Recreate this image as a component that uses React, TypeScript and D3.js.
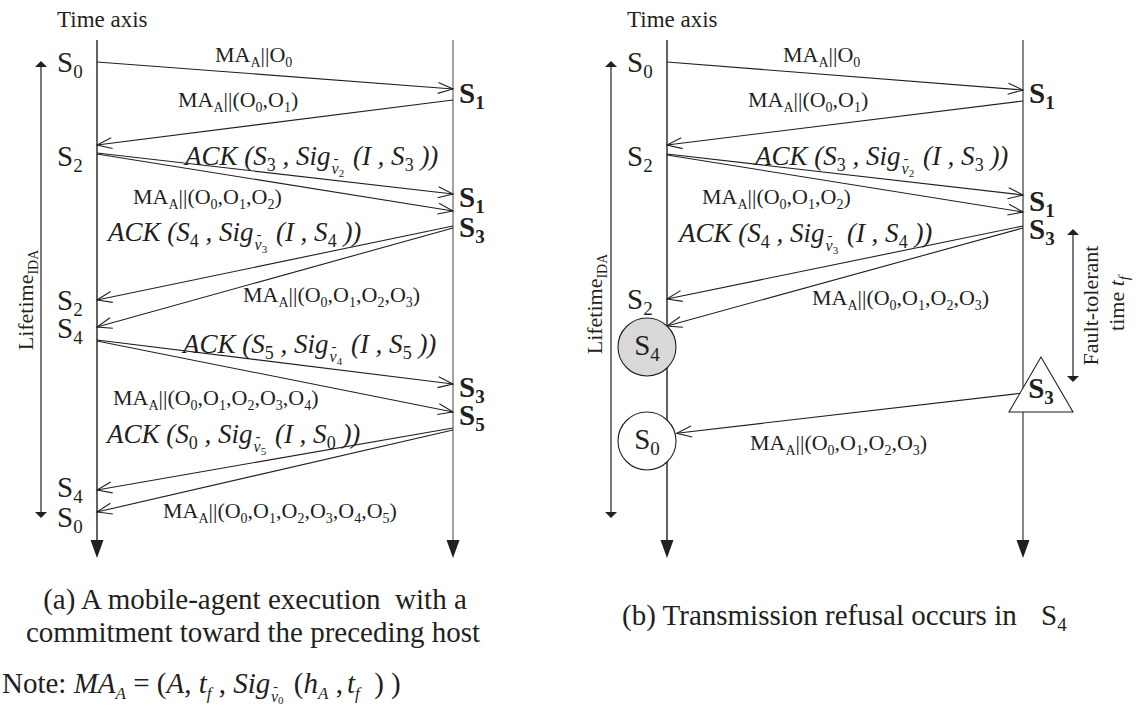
import React from 'react';
import * as d3 from 'd3';

const FONT = '"Liberation Serif", "Times New Roman", Times, serif';
const INK = '#231f20';

// time runs downward along both host lines
const timeDomain: [number, number] = [0, 52];

// ---- panel (a): execution with a commitment toward the preceding host ----
const aFrom = ['L', 'R', 'L', 'L', 'R', 'R', 'L', 'L', 'R', 'R'];
const aStart = [2.2, 6.0, 11.3, 11.4, 18.6, 18.8, 30.0, 30.1, 38.8, 39.0];
const aEnd = [4.9, 10.5, 15.4, 17.1, 26.0, 28.7, 34.4, 37.2, 45.0, 47.2];
const aLeftStates = [0, 2, 2, 4, 4, 0];
const aLeftAt = [3.2, 12.6, 27.0, 29.8, 45.7, 48.7];
const aRightStates = [1, 1, 3, 3, 5];
const aRightAt = [6.3, 16.7, 19.7, 35.7, 38.5];
const aMaObjects = [[0], [0, 1], [0, 1, 2], [0, 1, 2, 3], [0, 1, 2, 3, 4], [0, 1, 2, 3, 4, 5]];
const aAckState = [3, 4, 5, 0];
const aAckKey = [2, 3, 4, 5];

// ---- panel (b): transmission refusal occurs in S4 ----
const bFrom = ['L', 'R', 'L', 'L', 'R', 'R', 'R'];
const bStart = [2.2, 6.1, 11.4, 11.5, 18.6, 18.8, 35.3];
const bEnd = [5.0, 10.5, 15.5, 17.2, 25.9, 28.6, 39.3];
const bToCircle = [-1, -1, -1, -1, -1, -1, 1];
const bLeftStates = [0, 2, 2];
const bLeftAt = [3.2, 12.6, 26.9];
const bRightStates = [1, 1, 3];
const bRightAt = [6.3, 17.1, 19.9];
const bCircleStates = [4, 0];
const bCircleAt = [30.7, 40.1];
const bMaObjects = [[0], [0, 1], [0, 1, 2], [0, 1, 2, 3], [0, 1, 2, 3]];
const bAckState = [3, 4];
const bAckKey = [2, 3];
const refusedState = 3;
const refusedTop = 31.7;
const refusedBase = 37.2;
const faultWindow = [18.9, 34.2];
const lifetime = [2.1, 47.8];

// label placement (x, baseline y)
const aMaPos = [[215, 62], [178, 107], [133, 204], [243, 302], [113, 405], [163, 518]];
const aAckPos = [[185, 165], [108, 241], [183, 353], [107, 443]];
const bMaPos = [[783, 62], [748, 107], [702, 204], [812, 305], [750, 450]];
const bAckPos = [[755, 165], [679, 242]];

type Seg = { t: string; s?: number; off?: number; dx?: number; i?: boolean };

function Rich({ x, y, segs, size, anchor = 'start', weight, italic, transform }: any) {
  let prev = 0;
  return (
    <text x={x} y={y} fontSize={size} textAnchor={anchor} fontWeight={weight}
      fontStyle={italic ? 'italic' : 'normal'} transform={transform} fill={INK}
      style={{ whiteSpace: 'pre' }}>
      {(segs as Seg[]).map((g, k) => {
        const off = g.off ?? 0;
        const dy = off - prev;
        prev = off;
        return (
          <tspan key={k} dy={dy || undefined} dx={g.dx} fontSize={g.s}
            fontStyle={g.i === undefined ? undefined : g.i ? 'italic' : 'normal'}>{g.t}</tspan>
        );
      })}
    </text>
  );
}

const maSegs = (objs: number[]): Seg[] => {
  const segs: Seg[] = [{ t: 'MA' }, { t: 'A', s: 14, off: 5 }];
  if (objs.length === 1) return [...segs, { t: '||O' }, { t: String(objs[0]), s: 14, off: 5 }];
  segs.push({ t: '||(' });
  objs.forEach((o, i) => {
    segs.push({ t: (i ? ',' : '') + 'O' });
    segs.push({ t: String(o), s: 14, off: 5 });
  });
  segs.push({ t: ')' });
  return segs;
};

const sigSegs = (v: string): Seg[] => [
  { t: 'Sig', i: true },
  { t: '-', s: 15, off: -2, dx: 3, i: false },
  { t: 'v', s: 16, off: 9, dx: -7, i: true },
  { t: v, s: 11, off: 12, i: false },
];

const ackSegs = (k: number, v: number): Seg[] => [
  { t: 'ACK (', i: true },
  { t: 'S', i: true },
  { t: String(k), s: 18, off: 6, i: false },
  { t: ' , ', i: true },
  ...sigSegs(String(v)),
  { t: ' (I , S', i: true, dx: 2 },
  { t: String(k), s: 18, off: 6, i: false },
  { t: ' ))', i: true },
];

const stateSegs = (n: number): Seg[] => [{ t: 'S' }, { t: String(n), s: 19, off: 6 }];

const noteSegs: Seg[] = [
  { t: 'Note: ' },
  { t: 'MA', i: true, s: 29 }, { t: 'A', i: true, s: 17, off: 6 },
  { t: ' = (', s: 29 }, { t: 'A', i: true, s: 29 }, { t: ', ', s: 29 },
  { t: 't', i: true, s: 29 }, { t: 'f', i: true, s: 17, off: 6 }, { t: ' , ', s: 29 },
  { t: 'Sig', i: true, s: 29 }, { t: '-', s: 14, off: -2, dx: 3 },
  { t: 'v', i: true, s: 16, off: 9, dx: -7 }, { t: '0', s: 11, off: 11 },
  { t: ' (', s: 29, dx: 3 }, { t: 'h', i: true, s: 29 }, { t: 'A', i: true, s: 17, off: 6 },
  { t: ' ,', s: 29 }, { t: 't', i: true, s: 29, dx: 4 }, { t: 'f', i: true, s: 17, off: 6 },
  { t: '  ) )', s: 29 },
];

function openHead(x1: number, y1: number, x2: number, y2: number, L = 15, W = 5.5) {
  const dx = x2 - x1, dy = y2 - y1;
  const len = Math.hypot(dx, dy);
  const ux = dx / len, uy = dy / len;
  const bx = x2 - ux * L, by = y2 - uy * L;
  return `M${bx - uy * W},${by + ux * W}L${x2},${y2}L${bx + uy * W},${by - ux * W}`;
}

function Message({ x1, y1, x2, y2 }: any) {
  return (
    <g fill="none" stroke={INK} strokeWidth={1.1}>
      <line x1={x1} y1={y1} x2={x2} y2={y2} />
      <path d={openHead(x1, y1, x2, y2)} />
    </g>
  );
}

function LaneLine({ x, y, color }: any) {
  const top = y(0), end = y(50), tip = y(51.8);
  return (
    <g>
      <line x1={x} x2={x} y1={top} y2={end + 2} stroke={color} strokeWidth={1.4} />
      <path d={`M${x - 6.5},${end}L${x + 6.5},${end}L${x},${tip}Z`} fill={INK} />
    </g>
  );
}

function DoubleArrow({ x, y0, y1, color = INK }: any) {
  return (
    <g>
      <line x1={x} x2={x} y1={y0 + 3} y2={y1 - 3} stroke={color} strokeWidth={1.2} />
      <path d={`M${x - 6},${y0 + 6}L${x + 6},${y0 + 6}L${x},${y0}Z`} fill={INK} />
      <path d={`M${x - 6},${y1 - 6}L${x + 6},${y1 - 6}L${x},${y1}Z`} fill={INK} />
    </g>
  );
}

function Panel({ x, from, start, end, leftStates, leftAt, rightStates, rightAt, maObjects, maPos, ackState, ackKey, ackPos, lifeX, lifeLabel, rightColor, children, circle }: any) {
  const y = d3.scaleLinear().domain(timeDomain).range([40, 560]);
  const other = (s: string) => (s === 'L' ? 'R' : 'L');
  const L = x('L');
  const R = x('R');
  return (
    <g>
      <text x={L - 40} y={27} fontSize={23} fill={INK}>Time axis</text>
      <DoubleArrow x={lifeX} y0={y(lifetime[0])} y1={y(lifetime[1])} />
      <Rich x={0} y={0} size={22} anchor="middle"
        transform={`translate(${lifeLabel[0]},${lifeLabel[1]}) rotate(-90)`}
        segs={[{ t: 'Lifetime' }, { t: 'IDA', s: 14, off: 5 }]} />
      <LaneLine x={L} y={y} color={INK} />
      <LaneLine x={R} y={y} color={rightColor} />
      {from.map((f: string, i: number) => {
        const x1 = x(f), y1 = y(start[i]);
        let x2 = x(other(f)), y2 = y(end[i]);
        if (circle && circle.to[i] >= 0) {
          const c = circle.to[i];
          const cx = L - 20, cy = y(circle.at[c]);
          const d = Math.hypot(x1 - cx, y1 - cy);
          x2 = cx + ((x1 - cx) / d) * 30;
          y2 = cy + ((y1 - cy) / d) * 30 - 4;
        }
        return <Message key={i} x1={x1} y1={y1} x2={x2} y2={y2} />;
      })}
      {leftStates.map((s: number, i: number) => (
        <Rich key={'l' + i} x={L - 40} y={y(leftAt[i])} size={29} segs={stateSegs(s)} />
      ))}
      {rightStates.map((s: number, i: number) => (
        <Rich key={'r' + i} x={R + 6} y={y(rightAt[i])} size={29} weight="bold" segs={stateSegs(s)} />
      ))}
      {maObjects.map((o: number[], i: number) => (
        <Rich key={'m' + i} x={maPos[i][0]} y={maPos[i][1]} size={22} segs={maSegs(o)} />
      ))}
      {ackState.map((s: number, i: number) => (
        <Rich key={'a' + i} x={ackPos[i][0]} y={ackPos[i][1]} size={27} italic segs={ackSegs(s, ackKey[i])} />
      ))}
      {children && children(y, L, R)}
    </g>
  );
}

export default function App() {
  const xa = d3.scalePoint<string>().domain(['L', 'R']).range([97, 453]);
  const xb = d3.scalePoint<string>().domain(['L', 'R']).range([667, 1023]);
  return (
    <svg width={1138} height={706} style={{ position: 'absolute', left: 0, top: 0, background: '#fff' }}
      fontFamily={FONT}>
      <Panel x={xa} from={aFrom} start={aStart} end={aEnd}
        leftStates={aLeftStates} leftAt={aLeftAt} rightStates={aRightStates} rightAt={aRightAt}
        maObjects={aMaObjects} maPos={aMaPos} ackState={aAckState} ackKey={aAckKey} ackPos={aAckPos}
        lifeX={41} lifeLabel={[33, 300]} rightColor="#7a7a7a" />
      <Panel x={xb} from={bFrom} start={bStart} end={bEnd}
        leftStates={bLeftStates} leftAt={bLeftAt} rightStates={bRightStates} rightAt={bRightAt}
        maObjects={bMaObjects} maPos={bMaPos} ackState={bAckState} ackKey={bAckKey} ackPos={bAckPos}
        lifeX={611} lifeLabel={[602, 304]} rightColor="#555"
        circle={{ to: bToCircle, at: bCircleAt }}>
        {(y: any, L: number, R: number) => (
          <g>
            {bCircleStates.map((s, i) => (
              <g key={i}>
                <circle cx={L - 20} cy={y(bCircleAt[i])} r={29} fill={i === 0 ? '#d9d9d9' : '#fff'} stroke={INK} strokeWidth={1.1} />
                <Rich x={L - 20} y={y(bCircleAt[i]) + 8} size={29} anchor="middle" segs={[{ t: 'S' }, { t: String(s), s: 19, off: 6 }]} />
              </g>
            ))}
            <path d={`M${R + 18},${y(refusedTop)}L${R - 14},${y(refusedBase)}L${R + 50},${y(refusedBase)}Z`}
              fill="#fff" stroke={INK} strokeWidth={1.1} />
            <Rich x={R + 18} y={y(refusedBase) - 14} size={29} weight="bold" anchor="middle" segs={stateSegs(refusedState)} />
            <DoubleArrow x={R + 50} y0={y(faultWindow[0])} y1={y(faultWindow[1])} />
            <text transform={`translate(${R + 75},${y((faultWindow[0] + faultWindow[1]) / 2)}) rotate(-90)`}
              fontSize={22} textAnchor="middle" fill={INK}>Fault-tolerant</text>
            <Rich x={0} y={0} size={22} anchor="middle"
              transform={`translate(${R + 101},${y((faultWindow[0] + faultWindow[1]) / 2) - 2}) rotate(-90)`}
              segs={[{ t: 'time ' }, { t: 't', i: true }, { t: 'f', s: 15, off: 5, i: true }]} />
          </g>
        )}
      </Panel>

      <text x={255} y={609} fontSize={29} textAnchor="middle" fill={INK} style={{ whiteSpace: 'pre' }}>(a) A mobile-agent execution  with a</text>
      <text x={253} y={642} fontSize={29} textAnchor="middle" fill={INK}>commitment toward the preceding host</text>
      <text x={622} y={625} fontSize={29} fill={INK}>(b) Transmission refusal occurs in</text>
      <Rich x={1041} y={625} size={29} segs={[{ t: 'S' }, { t: '4', s: 19, off: 6 }]} />
      <Rich x={2} y={693} size={29} segs={noteSegs} />
    </svg>
  );
}
